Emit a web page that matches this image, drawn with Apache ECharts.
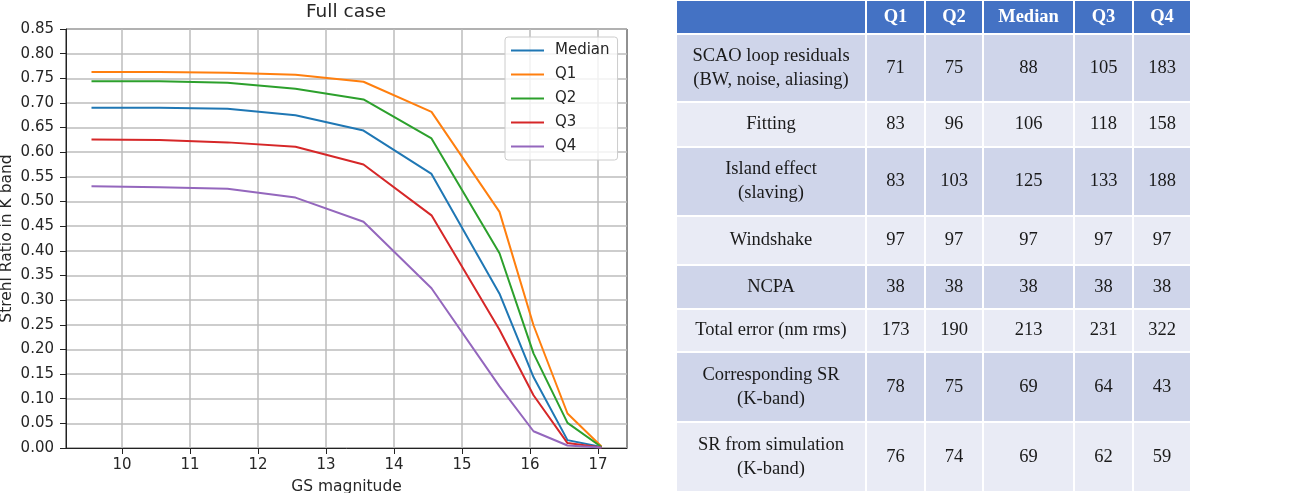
<!DOCTYPE html>
<html>
<head>
<meta charset="utf-8">
<script src="https://cdn.jsdelivr.net/npm/echarts@6.0.0/dist/echarts.min.js"></script>
<style>
  html, body { margin: 0; padding: 0; background: #fff; }
</style>
</head>
<body>
<div id="myChart" style="width: 1294px; height: 493px;"></div>
<script>
// GS magnitude samples and Strehl ratio (K band) per quartile
const gsMag = [9.55, 10.55, 11.55, 12.55, 13.55, 14.55, 15.55, 16.05, 16.55, 17.05]
const srMedian = [0.690, 0.690, 0.688, 0.675, 0.644, 0.556, 0.313, 0.144, 0.016, 0.002]
const srQ1 = [0.763, 0.763, 0.761, 0.757, 0.743, 0.682, 0.479, 0.249, 0.070, 0.003]
const srQ2 = [0.744, 0.744, 0.741, 0.729, 0.707, 0.628, 0.395, 0.192, 0.051, 0.002]
const srQ3 = [0.626, 0.625, 0.620, 0.611, 0.575, 0.472, 0.240, 0.107, 0.010, 0.001]
const srQ4 = [0.531, 0.529, 0.526, 0.508, 0.459, 0.324, 0.125, 0.034, 0.005, 0.001]
const xTicks = [10, 11, 12, 13, 14, 15, 16, 17]

// error budget table
const tableCols = ['Q1', 'Q2', 'Median', 'Q3', 'Q4']
const tableRows = ['SCAO loop residuals\n(BW, noise, aliasing)', 'Fitting', 'Island effect\n(slaving)', 'Windshake',
  'NCPA', 'Total error (nm rms)', 'Corresponding SR\n(K-band)', 'SR from simulation\n(K-band)']
const budgetQ1 = [71, 83, 83, 97, 38, 173, 78, 76]
const budgetQ2 = [75, 96, 103, 97, 38, 190, 75, 74]
const budgetMedian = [88, 106, 125, 97, 38, 213, 69, 69]
const budgetQ3 = [105, 118, 133, 97, 38, 231, 64, 62]
const budgetQ4 = [183, 158, 188, 97, 38, 322, 43, 59]

// layout of the table
const colSizes = [190, 59, 58, 91, 59, 58]
const rowSizes = [68, 45, 69, 49, 44, 43, 70, 70]
const headSize = 34

const lineColors = ['#1f77b4', '#ff7f0e', '#2ca02c', '#d62728', '#9467bd']
const textColor = '#262626'
const sans = 'DejaVu Sans'
const serif = 'Liberation Serif'

const seriesDefs = [
  { name: 'Median', values: srMedian },
  { name: 'Q1', values: srQ1 },
  { name: 'Q2', values: srQ2 },
  { name: 'Q3', values: srQ3 },
  { name: 'Q4', values: srQ4 }
]

const budgetCols = [budgetQ1, budgetQ2, budgetMedian, budgetQ3, budgetQ4]
const cellData = []
for (let r = 0; r < tableRows.length; r++) {
  const fill = r % 2 === 0 ? '#cfd5ea' : '#e9ebf5'
  cellData.push({ coord: [0, r], value: tableRows[r], itemStyle: { color: fill } })
  for (let c = 0; c < budgetCols.length; c++) {
    cellData.push({ coord: [c + 1, r], value: String(budgetCols[c][r]), itemStyle: { color: fill } })
  }
}

const myChart = echarts.init(document.getElementById('myChart'))
myChart.setOption({
  animation: false,
  color: lineColors,
  title: {
    text: 'Full case',
    left: 346,
    top: 3,
    padding: 0,
    textAlign: 'center',
    textStyle: { fontFamily: sans, fontSize: 18.5, fontWeight: 'normal', color: textColor }
  },
  legend: {
    orient: 'vertical',
    left: 505,
    top: 37,
    padding: [6, 8, 6, 6],
    itemGap: 9,
    itemWidth: 33,
    itemHeight: 2,
    icon: 'rect',
    borderColor: '#cccccc',
    borderWidth: 1,
    borderRadius: 3,
    backgroundColor: 'rgba(255,255,255,0.8)',
    textStyle: { fontFamily: sans, fontSize: 15, color: textColor, padding: [0, 0, 0, 6] },
    data: seriesDefs.map(s => s.name)
  },
  grid: {
    left: 66,
    top: 29,
    right: 667,
    bottom: 45,
    show: true,
    borderColor: '#222',
    borderWidth: 1,
    containLabel: false,
    outerBoundsMode: 'none'
  },
  xAxis: {
    type: 'value',
    min: 9.175,
    max: 17.425,
    name: 'GS magnitude',
    nameLocation: 'middle',
    nameGap: 31,
    nameTextStyle: { fontFamily: sans, fontSize: 15.5, color: textColor },
    axisLine: { show: true, onZero: false, lineStyle: { color: '#222', width: 1 } },
    axisTick: { show: true, length: 6, customValues: xTicks, lineStyle: { color: '#222' } },
    axisLabel: { customValues: xTicks, fontFamily: sans, fontSize: 15, color: textColor, margin: 10 },
    splitLine: { show: true, lineStyle: { color: '#bdbdbd', width: 1.5 } }
  },
  yAxis: {
    type: 'value',
    min: 0,
    max: 0.85,
    interval: 0.05,
    name: 'Strehl Ratio in K band',
    nameLocation: 'middle',
    nameGap: 51,
    nameTextStyle: { fontFamily: sans, fontSize: 15.5, color: textColor },
    axisLine: { show: true, lineStyle: { color: '#222', width: 1 } },
    axisTick: { show: true, length: 6, lineStyle: { color: '#222' } },
    axisLabel: {
      fontFamily: sans,
      fontSize: 15,
      color: textColor,
      margin: 12,
      formatter: v => v.toFixed(2)
    },
    splitLine: { show: true, lineStyle: { color: '#bdbdbd', width: 1.5 } }
  },
  matrix: {
    left: 676,
    top: 0,
    width: 515,
    height: 492,
    backgroundStyle: { color: '#fff', borderWidth: 0 },
    x: {
      data: [' '].concat(tableCols).map((name, i) => ({ value: name, size: colSizes[i] })),
      levels: [{ levelSize: headSize }],
      itemStyle: { color: '#4472c4', borderColor: '#fff', borderWidth: 2 },
      label: { color: '#fff', fontWeight: 'bold', fontFamily: serif, fontSize: 18.5 },
      dividerLineStyle: { color: '#fff', width: 3 }
    },
    y: {
      show: false,
      data: tableRows.map((name, i) => ({ value: 'r' + i, size: rowSizes[i] }))
    },
    body: {
      itemStyle: { borderColor: '#fff', borderWidth: 2 },
      label: { color: '#1a1a1a', fontFamily: serif, fontSize: 18.5, lineHeight: 24 },
      data: cellData
    }
  },
  series: seriesDefs.map(s => ({
    name: s.name,
    type: 'line',
    symbol: 'none',
    lineStyle: { width: 2 },
    data: gsMag.map((x, i) => [x, s.values[i]])
  }))
})
</script>
</body>
</html>
